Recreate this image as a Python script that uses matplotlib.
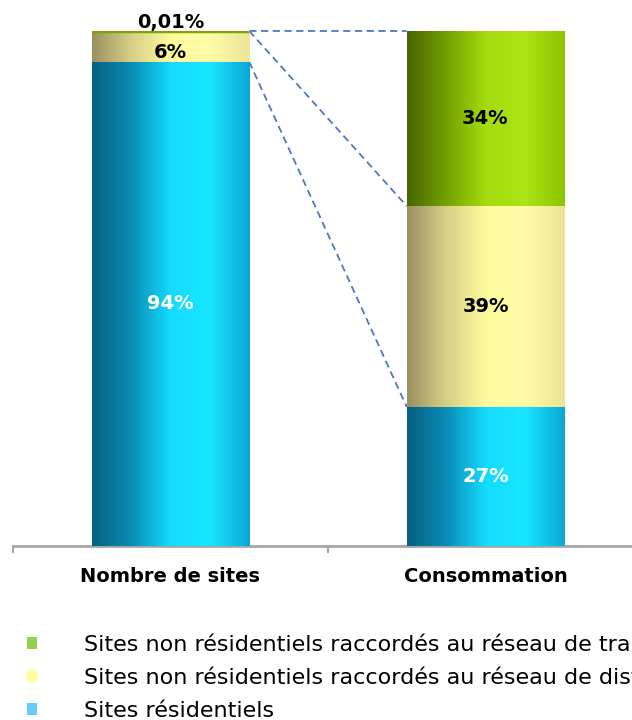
import matplotlib.pyplot as plt
import numpy as np
from matplotlib.colors import LinearSegmentedColormap
from matplotlib.patches import Patch

categories = ['Nombre de sites', 'Consommation']
series = ['Sites résidentiels',
          'Sites non résidentiels raccordés au réseau de distribution',
          'Sites non résidentiels raccordés au réseau de transport']
values = {
    'Sites résidentiels': [94, 27],
    'Sites non résidentiels raccordés au réseau de distribution': [6, 39],
    'Sites non résidentiels raccordés au réseau de transport': [0.01, 34],
}
labels = {
    'Sites résidentiels': ['94%', '27%'],
    'Sites non résidentiels raccordés au réseau de distribution': ['6%', '39%'],
    'Sites non résidentiels raccordés au réseau de transport': ['0,01%', '34%'],
}

legend_colors = ['#66CCFF', '#FFFF99', '#92D050']
gradients = [
    ['#05607f', '#0a8cb6', '#14dcff', '#18e6ff', '#0aa6d6'],
    ['#9a9060', '#d8d088', '#fffb9c', '#fffca8', '#ece496'],
    ['#466600', '#74a000', '#a4dc10', '#ace414', '#8cc400'],
]
text_colors = ['white', 'black', 'black']

fig = plt.figure(figsize=(6.32, 7.2), dpi=100)
ax = fig.add_axes([13 / 632, 174 / 720, 630 / 632, 515 / 720])

x = np.arange(len(categories))
width = 0.5
bottom = np.zeros(len(categories))
grad = np.linspace(0, 1, 256).reshape(1, -1)
for i, s in enumerate(series):
    vals = np.array(values[s])
    bars = ax.bar(x, vals, width, bottom=bottom, color=legend_colors[i],
                  edgecolor='none', zorder=2)
    cmap = LinearSegmentedColormap.from_list('g%d' % i, gradients[i])
    for p in bars.patches:
        x0, y0, w, h = p.get_x(), p.get_y(), p.get_width(), p.get_height()
        if h < 1:
            # too thin to see: draw as a thin green rim
            p.set_edgecolor('#7aa800')
            p.set_linewidth(2.5)
            p.set_zorder(4)
            continue
        im = ax.imshow(grad, cmap=cmap, aspect='auto', interpolation='bicubic',
                       extent=(x0, x0 + w, y0, y0 + h), zorder=3)
        im.set_clip_path(p)
    for j, p in enumerate(bars.patches):
        h = p.get_height()
        if h < 1:
            ty = p.get_y() + h + 1.6
        elif h < 10:
            ty = p.get_y() + h / 2 - 1.2
        else:
            ty = p.get_y() + h / 2
        ax.text(p.get_x() + p.get_width() / 2, ty, labels[s][j],
                ha='center', va='center', fontsize=14, fontweight='bold',
                color=text_colors[i], zorder=5, clip_on=False)
    bottom += vals

# series lines between the two bars
cum0 = np.cumsum([values[s][0] for s in series])
cum1 = np.cumsum([values[s][1] for s in series])
for k in range(len(series)):
    ax.plot([x[0] + width / 2, x[1] - width / 2], [cum0[k], cum1[k]],
            ls=(0, (4, 2.5)), color='#4a78c4', lw=1.3, zorder=1, clip_on=False)

ax.set_xlim(-0.5, 1.5)
ax.set_ylim(0, 100)
for sp in ['top', 'left', 'right']:
    ax.spines[sp].set_visible(False)
ax.spines['bottom'].set_color('#a6a6a6')
ax.spines['bottom'].set_linewidth(2)
ax.set_yticks([])
ax.set_xticks(x)
ax.set_xticklabels(categories, fontsize=14, fontweight='bold')
ax.tick_params(axis='x', which='major', length=0, pad=15)
ax.set_xticks([-0.5, 0.5, 1.5], minor=True)
ax.tick_params(axis='x', which='minor', length=5, color='#a6a6a6', width=1.5)

handles = [Patch(facecolor=legend_colors[i]) for i in range(3)][::-1]
fig.legend(handles, series[::-1], loc='lower left',
           bbox_to_anchor=(16 / 632, -12 / 720), frameon=False,
           fontsize=16, handlelength=0.45, handleheight=0.45,
           handletextpad=2.13, labelspacing=0.59, borderpad=0)

fig.savefig('out.png', dpi=100)
